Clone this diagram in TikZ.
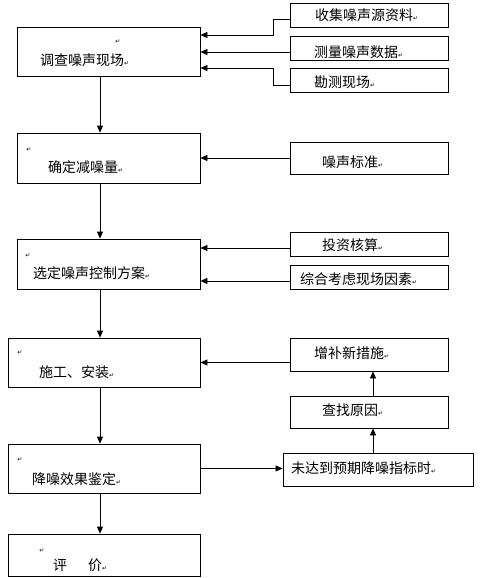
\documentclass[tikz,border=0pt]{standalone}
\usepackage{fontspec}
\setmainfont{Noto Sans CJK SC}
\newfontfamily\symfont{DejaVu Sans}
\usetikzlibrary{arrows.meta}
\newcommand{\pmk}{{\symfont\fontsize{6}{6}\selectfont ↵}}

\begin{document}
\begin{tikzpicture}[x=1pt,y=-1pt,
    box/.style={draw,line width=0.8pt,inner sep=0pt},
    txt/.style={anchor=west,inner sep=0pt,font=\fontsize{14}{16}\selectfont},
    pm/.style={inner sep=0pt,font=\symfont\fontsize{6}{6}\selectfont},
    arr/.style={-{Triangle[length=7pt,width=6pt]},line width=0.8pt}]
    \useasboundingbox (0,0) rectangle (483,578);
    \coordinate (spine) at (100,0);

    % Main steps
    \node[box,minimum width=183pt,minimum height=49pt] (survey) at (108.5,51.5) {};
    \node[box,minimum width=183pt,minimum height=50pt] (amount) at (108.5,158) {};
    \node[box,minimum width=183pt,minimum height=50pt] (scheme) at (108.5,264) {};
    \node[box,minimum width=192pt,minimum height=49pt] (build) at (104,362.5) {};
    \node[box,minimum width=192pt,minimum height=49pt] (check) at (104,468.5) {};
    \node[box,minimum width=192pt,minimum height=42pt] (rate) at (104,555) {};

    \node[txt] (survey-t) at (40,60) {调查噪声现场\pmk};
    \node[txt] (amount-t) at (48,167) {确定减噪量\pmk};
    \node[txt] (scheme-t) at (33,273) {选定噪声控制方案\pmk};
    \node[txt] (build-t) at (39,372) {施工、安装\pmk};
    \node[txt] (check-t) at (32,479) {降噪效果鉴定\pmk};
    \node[txt] (rate-t) at (53,565) {评\hspace{21pt}价\pmk};

    % Empty paragraph marks
    \foreach \n/\x/\y in {survey/118/42,amount/29/150,scheme/28/256,build/20/353,check/20/460,rate/42/551}
        \node[pm] (\n-p) at (\x,\y) {↵};

    % Side inputs
    \foreach \n/\cy/\h in {collect/15/24pt,measure/48/24pt,site/80/24pt,std/158/32pt,
                           cost/244/24pt,factor/277/24pt,extra/354.5/33pt,cause/412/32pt}
        \node[box,minimum width=158pt,minimum height=\h] (\n) at (369,\cy) {};
    \node[box,minimum width=190pt,minimum height=33pt] (miss) at (378,469.5) {};

    \node[txt] (collect-t) at (315,15) {收集噪声源资料\pmk};
    \node[txt] (measure-t) at (314,52) {测量噪声数据\pmk};
    \node[txt] (site-t) at (314,82) {勘测现场\pmk};
    \node[txt] (std-t) at (322,162) {噪声标准\pmk};
    \node[txt] (cost-t) at (322,245) {投资核算\pmk};
    \node[txt] (factor-t) at (300,279) {综合考虑现场因素\pmk};
    \node[txt] (extra-t) at (314,353) {增补新措施\pmk};
    \node[txt] (cause-t) at (322,410) {查找原因\pmk};
    \node[txt] (miss-t) at (291,468) {未达到预期降噪指标时\pmk};

    % Main flow
    \foreach \a/\b in {survey/amount,amount/scheme,scheme/build,build/check,check/rate}
        \draw[arr] (\a.south -| spine) -- (\b.north -| spine);

    % Arrows into the steps
    \draw[arr] ([yshift=-4pt]collect.west) -- ++(-16,0) |- ([yshift=16.5pt]survey.east);
    \draw[arr] ([yshift=-4pt]measure.west) -- ([yshift=-4pt]measure.west -| survey.east);
    \draw[arr] ([yshift=-5pt]site.west) -- ++(-16,0) |- ([yshift=-16.5pt]survey.east);
    \draw[arr] (std) -- (amount);
    \draw[arr] ([yshift=-4pt]cost.west) -- ([yshift=-4pt]cost.west -| scheme.east);
    \draw[arr] ([yshift=-4pt]factor.west) -- ([yshift=-4pt]factor.west -| scheme.east);
    \draw[arr] (extra.west |- build.east) -- (build.east);

    % Feedback loop
    \draw[arr] (check.east) -- (check.east -| miss.west);
    \draw[arr] ([xshift=4pt]cause.south |- miss.north) -- ([xshift=4pt]cause.south);
    \draw[arr] ([xshift=4pt]cause.north) -- ([xshift=4pt]extra.south);
\end{tikzpicture}
\end{document}
